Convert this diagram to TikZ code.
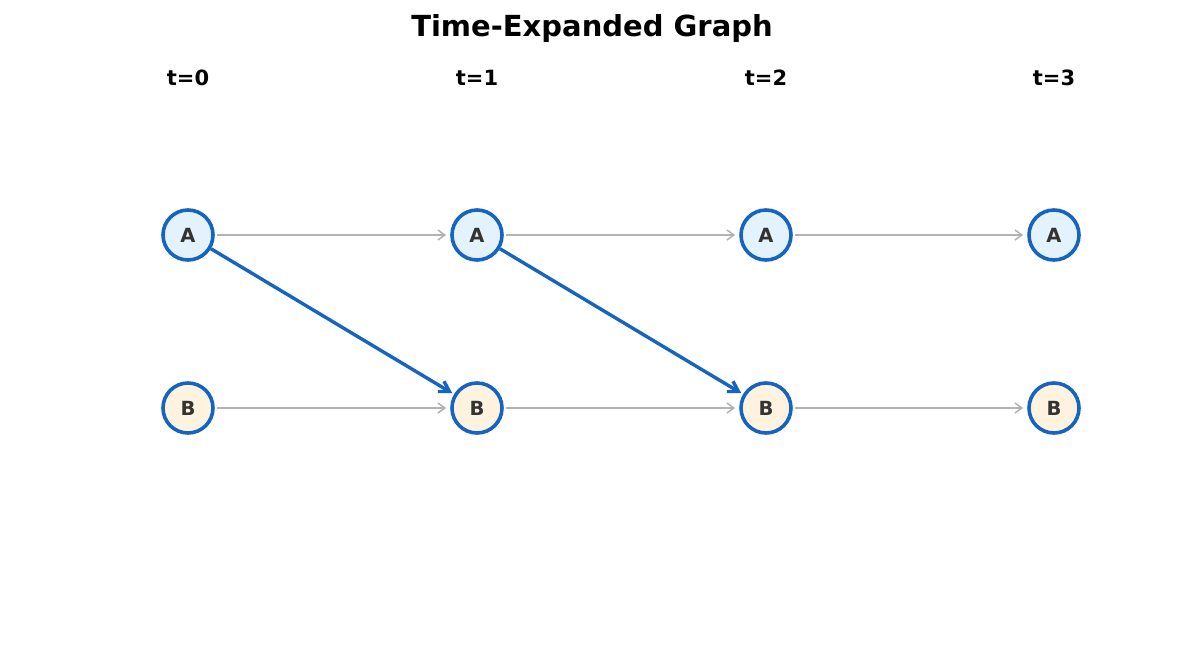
\documentclass[tikz,border=0pt]{standalone}
\usepackage{fontspec}
\setmainfont{DejaVu Sans}
\usetikzlibrary{arrows.meta}
\definecolor{nblue}{HTML}{1565C0}
\definecolor{afill}{HTML}{E3F2FD}
\definecolor{bfill}{HTML}{FFF3E0}
\definecolor{txt}{HTML}{333333}
\begin{document}
\begin{tikzpicture}[x=1pt,y=-1pt,
  st/.style={circle,draw=nblue,line width=3.6pt,minimum size=50pt,inner sep=0pt,font=\fontsize{19.5}{19.5}\selectfont\bfseries,text=txt},
  wait/.style={draw=black!30,line width=1.5pt,-{Straight Barb[length=7pt,width=10pt]},shorten >=4pt,shorten <=2pt},
  move/.style={draw=nblue,line width=3.4pt,-{Straight Barb[length=10pt,width=12pt]},shorten >=2pt},
  lab/.style={font=\fontsize{21}{21}\selectfont\bfseries}]
\useasboundingbox (0,0) rectangle (1185,654);
\node[font=\fontsize{29}{29}\selectfont\bfseries] (title) at (592,28) {Time-Expanded Graph};
\foreach \i/\x in {0/188,1/477,2/766,3/1054}{
  \node[lab] (t\i) at (\x,78) {t=\i};
  \node[st,fill=afill] (A\i) at (\x,235) {A};
  \node[st,fill=bfill] (B\i) at (\x,408) {B};
}
\foreach \i/\j in {0/1,1/2,2/3}{
  \draw[wait] (A\i) -- (A\j);
  \draw[wait] (B\i) -- (B\j);
}
\draw[move] (A0) -- (B1);
\draw[move] (A1) -- (B2);
\end{tikzpicture}
\end{document}
